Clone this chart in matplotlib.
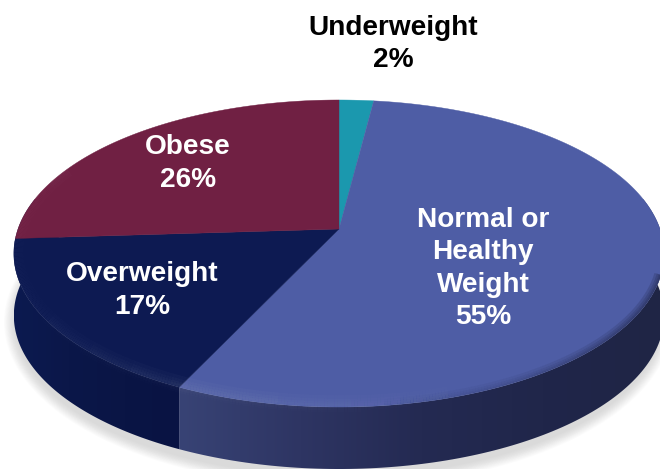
import numpy as np
import matplotlib
matplotlib.use('Agg')
import matplotlib.pyplot as plt
from matplotlib.patches import Polygon, Ellipse
from matplotlib.collections import LineCollection
from matplotlib.colors import LinearSegmentedColormap

plt.rcParams['font.family'] = ['Liberation Sans', 'DejaVu Sans']

# clockwise from 12 o'clock
categories = ['Underweight', 'Normal or\nHealthy\nWeight', 'Overweight', 'Obese']
shares = [2, 55, 17, 26]
top_colors = ['#1b98ae', '#4e5da5', '#0d1a52', '#702043']

W, H = 660, 469
APEX_X, APEX_Y = 339, 229
KP = 0.1596     # perspective
AX, BY = 321, 149.6
DEPTH = 62


# disc -> screen, theta in deg clockwise from the back of the pie
def project(theta, r=1.0):
    t = np.radians(theta)
    X, Y = r * np.sin(t), r * np.cos(t)
    w = 1 + KP * Y
    return APEX_X + AX * X / w, APEX_Y - BY * Y / w


def arc(t0, t1, n=200):
    x, y = project(np.linspace(t0, t1, n))
    return np.column_stack([x, y])


def side(ax, t0, t1, stops):
    top = arc(t0, t1)
    bot = top[::-1] + [0, DEPTH]
    poly = Polygon(np.vstack([top, bot]), closed=True, fc='none', ec='none')
    ax.add_patch(poly)
    x0, x1 = top[:, 0].min(), top[:, 0].max()
    cm = LinearSegmentedColormap.from_list('s', stops)
    im = ax.imshow(np.linspace(0, 1, 256)[None, :], cmap=cm, aspect='auto',
                   extent=(x0, x1, 475, 200), zorder=2)
    im.set_clip_path(poly)


fig = plt.figure(figsize=(W / 100, H / 100), dpi=100)
ax = fig.add_axes([0, 0, 1, 1])
ax.axis('off')

# soft shadow under the pie
for i in range(14):
    grow = 24 - i * 1.7
    ax.add_patch(Ellipse((338, 322), 2 * 322 + grow, 2 * 153 + grow, fc='#909090',
                         ec='none', alpha=0.022, zorder=1))

edges = np.cumsum([0] + shares) * 3.6

side(ax, edges[1], edges[2], ['#384375', '#2e3563', '#242a52', '#20264a', '#1f2545'])
side(ax, edges[2], 295, ['#0c1a50', '#0b1749', '#0a1545', '#091343'])

for i, c in enumerate(top_colors):
    pts = np.vstack([[APEX_X, APEX_Y], arc(edges[i], edges[i + 1])])
    ax.add_patch(Polygon(pts, closed=True, fc=c, ec=c, lw=0.3, zorder=3))

# bevel along the front rim
rim = arc(95, 295, 400)
top_clip = Polygon(arc(0, 360, 400), closed=True, fc='none', ec='none', transform=ax.transData)
ax.add_patch(top_clip)
segs = np.stack([rim[:-1], rim[1:]], axis=1)
xm = segs[:, :, 0].mean(axis=1)
glow = np.interp(xm, [15, 176, 330, 480, 620], [0.3, 1.0, 0.7, 0.15, 0.0])
dark = np.interp(xm, [380, 520, 660], [0.0, 0.35, 1.0])
for lw in [14, 9, 5, 2]:
    rgba = np.zeros((len(segs), 4))
    rgba[:, :3] = 1
    rgba[:, 3] = 0.022 * glow
    lc = LineCollection(segs + [0, -2], colors=rgba, linewidths=lw, zorder=4, capstyle='butt')
    ax.add_collection(lc)
    lc.set_clip_path(top_clip)
    rgba = np.zeros((len(segs), 4))
    rgba[:, :3] = (0.12, 0.14, 0.27)
    rgba[:, 3] = 0.2 * dark
    lc = LineCollection(segs, colors=rgba, linewidths=lw * 0.7, zorder=4, capstyle='butt')
    ax.add_collection(lc)
    lc.set_clip_path(top_clip)

# soft light just under the rim, on the side wall
for lw, a in [(8, 0.01), (5, 0.014), (2, 0.02)]:
    rgba = np.zeros((len(segs), 4))
    rgba[:, :3] = 1
    rgba[:, 3] = a * glow
    ax.add_collection(LineCollection(segs, colors=rgba, linewidths=lw, zorder=2.5, capstyle='butt'))

fs = 20.2
ls = 1.33
ax.text(393, 44, f'{categories[0]}\n{shares[0]}%', color='black', fontsize=fs, fontweight='bold',
        ha='center', va='center', linespacing=ls, zorder=5)
ax.text(483, 268.5, f'{categories[1]}\n{shares[1]}%', color='white', fontsize=fs, fontweight='bold',
        ha='center', va='center', linespacing=ls, zorder=5)
ax.text(142, 290.5, f'{categories[2]}\n{shares[2]}%', color='white', fontsize=fs, fontweight='bold',
        ha='center', va='center', linespacing=ls, zorder=5)
ax.text(188, 163.5, f'{categories[3]}\n{shares[3]}%', color='white', fontsize=fs, fontweight='bold',
        ha='center', va='center', linespacing=ls, zorder=5)

ax.set_xlim(0, W)
ax.set_ylim(H, 0)
fig.savefig('out.png', dpi=100)
